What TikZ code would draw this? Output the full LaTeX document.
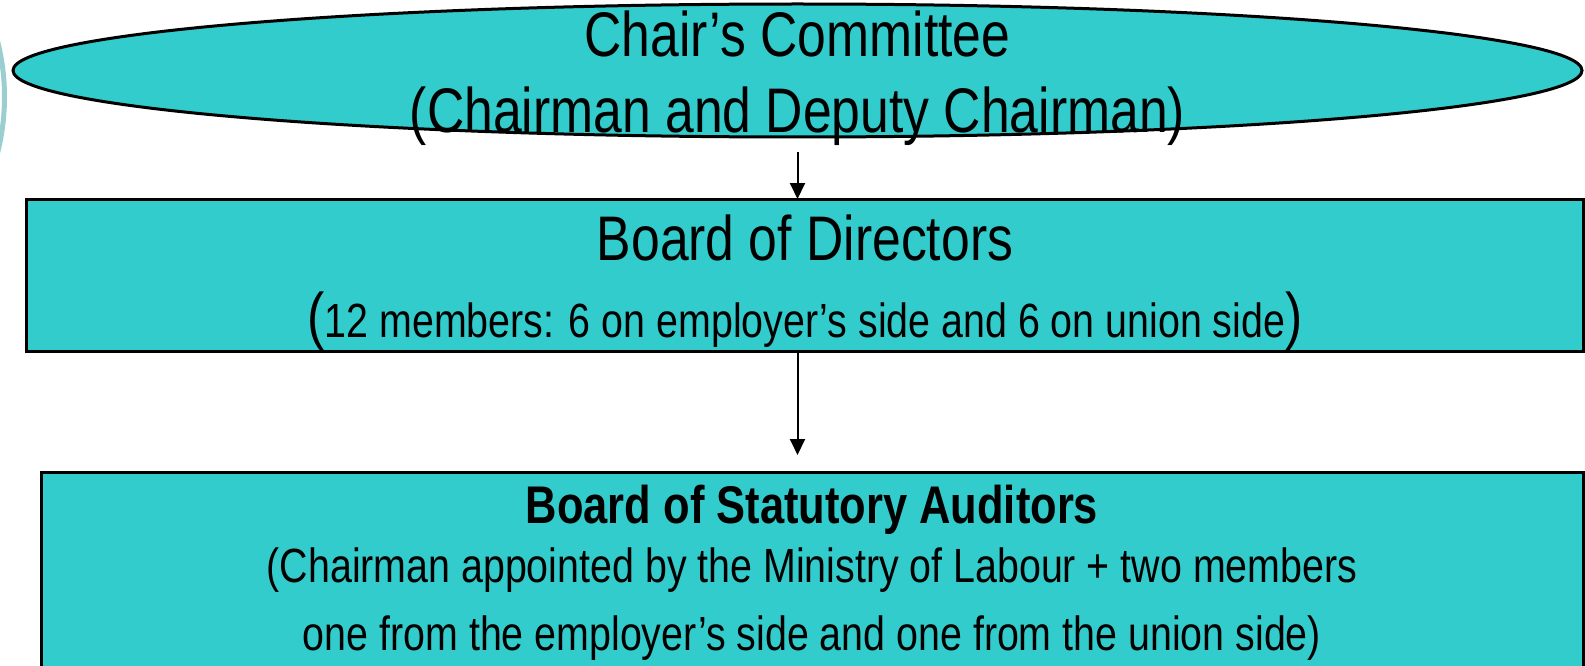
\documentclass[tikz,border=0pt]{standalone}
\usepackage{fontspec}
\setmainfont[FakeStretch=0.82]{Liberation Sans}
\usetikzlibrary{shapes.geometric,arrows.meta}
\definecolor{tealfill}{HTML}{33CCCC}
\definecolor{ringcol}{HTML}{9BCFCF}
\begin{document}
\begin{tikzpicture}[x=1pt,y=-1pt,
  shapebox/.style={draw=black,line width=3pt,fill=tealfill,inner sep=0pt,outer sep=0pt},
  txt/.style={inner sep=0pt,anchor=base,text=black},
  arr/.style={line width=2pt,-{Triangle[width=15pt,length=16pt]}}]
\useasboundingbox (0,0) rectangle (1585,666);
\clip (0,0) rectangle (1585,666);
% partial ring at the left edge
\draw[ringcol,line width=5pt] (-223,97) circle[radius=227.5];
% ellipse
\node[shapebox,ellipse,minimum width=1569pt,minimum height=133pt] (ell) at (797.5,70.5) {};
\node[txt] (t1) at (797.5,57) {\fontsize{63}{76}\selectfont Chair’s Committee};
\node[txt] (t2) at (797.5,133) {\fontsize{63}{76}\selectfont (Chairman and Deputy Chairman)};
% board of directors
\node[shapebox,rectangle,minimum width=1557.5pt,minimum height=152pt] (b1) at (804.75,275) {};
\node[txt] (t3) at (805,260) {\fontsize{63}{76}\selectfont Board of Directors};
\node[txt] (t4) at (805,337) {\fontsize{63}{76}\selectfont (\fontsize{48}{58}\selectfont 12 members: 6 on employer’s side and 6 on union side\fontsize{63}{76}\selectfont )};
% board of statutory auditors
\node[shapebox,rectangle,minimum width=1542.5pt,minimum height=240pt] (b2) at (812.25,592) {};
\node[txt] (t5) at (812,523) {\fontsize{53}{64}\selectfont\bfseries Board of Statutory Auditors};
\node[txt] (t6) at (812,582) {\fontsize{48}{58}\selectfont (Chairman appointed by the Ministry of Labour + two members};
\node[txt] (t7) at (812,650) {\fontsize{48}{58}\selectfont one from the employer’s side and one from the union side)};
% connectors
\draw[arr,shorten <=15pt] (ell.south) -- (ell.south |- b1.north);
\draw[arr,shorten >=17pt] (ell.south |- b1.south) -- (ell.south |- b2.north);
\end{tikzpicture}
\end{document}
